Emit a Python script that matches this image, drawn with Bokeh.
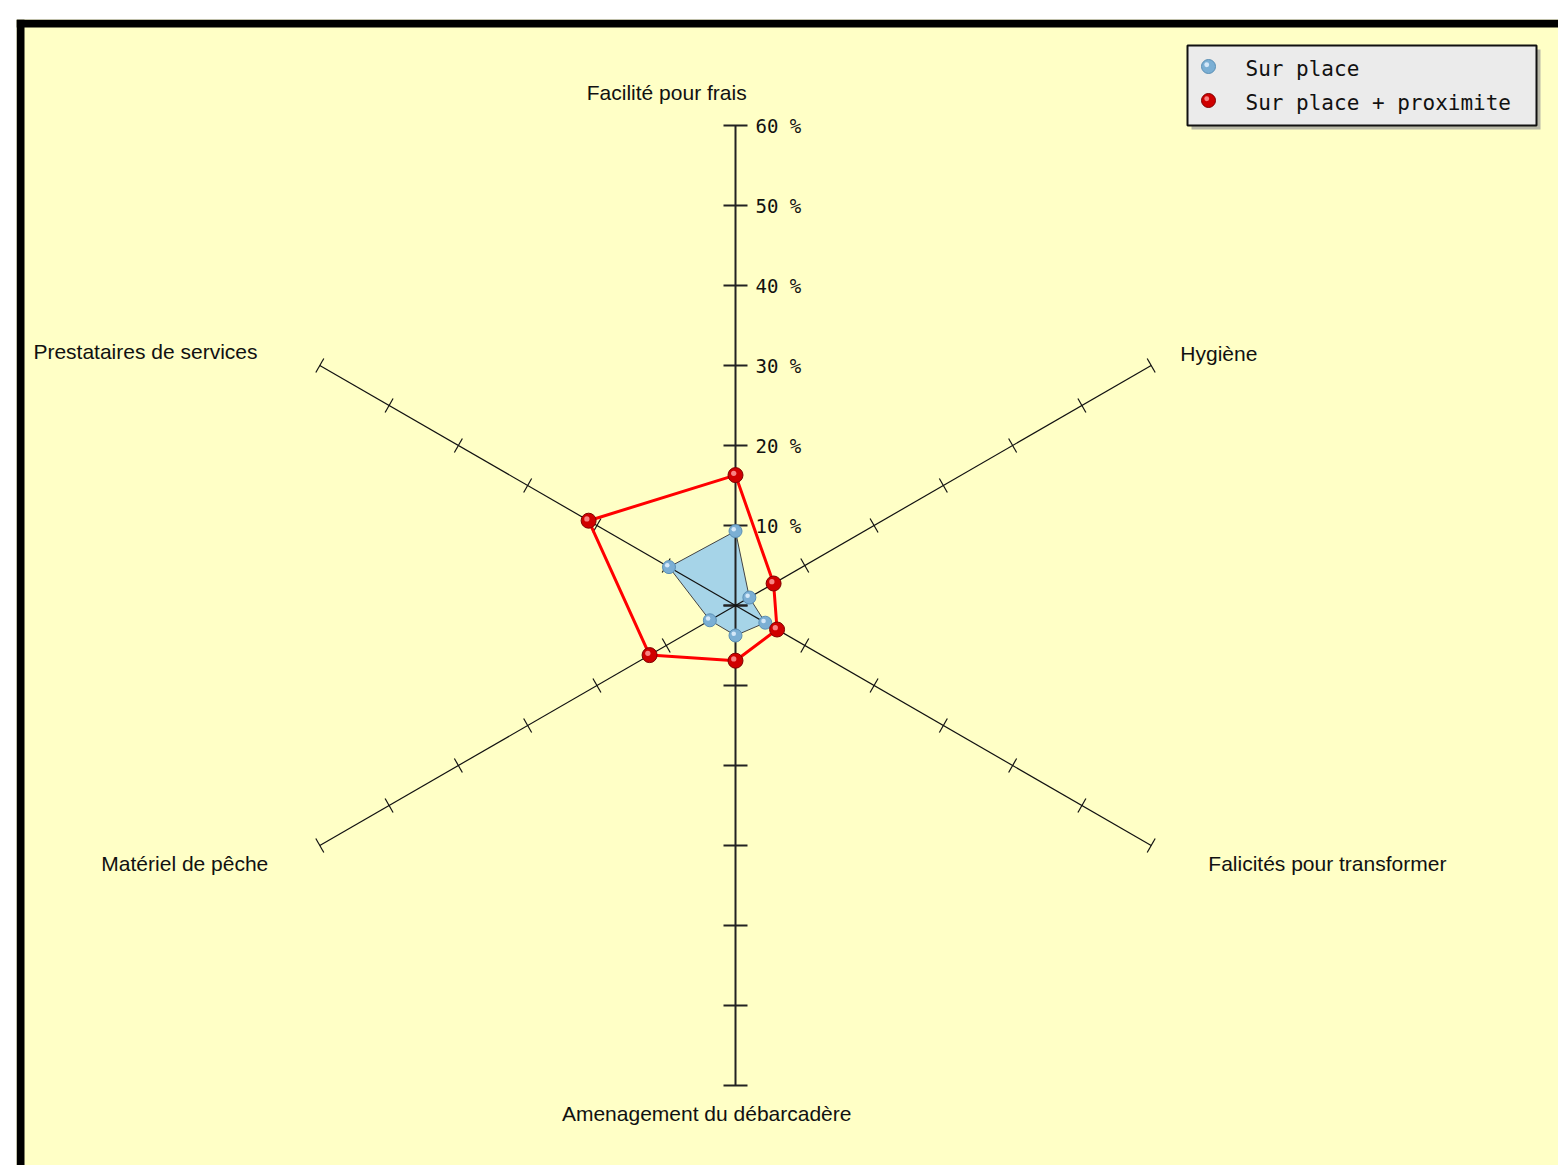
import math
from bokeh.plotting import figure
from bokeh.models import Range1d
from bokeh.core.properties import value
from bokeh.embed import file_html
from bokeh.resources import INLINE

# ---------------- data ----------------
categories = ["Facilité pour frais", "Hygiène", "Falicités pour transformer",
              "Amenagement du débarcadère", "Matériel de pêche", "Prestataires de services"]
angles_deg = [90, 30, -30, -90, -150, 150]
sur_place = [9.3, 2.0, 4.3, 3.75, 3.7, 9.6]
sur_place_prox = [16.3, 5.5, 6.0, 6.9, 12.4, 21.2]
tick_values = [10, 20, 30, 40, 50, 60]
tick_labels = ["10 %", "20 %", "30 %", "40 %", "50 %", "60 %"]
series_names = ["Sur place", "Sur place + proximite"]

# ---------------- layout ----------------
W, H = 1558, 1165
PX = 8.0  # pixels per percent unit
ML, MT = 16, 19
frame_w, frame_h = W - ML, H - MT
cx_px, cy_px = 735 - 16, 605 - 19  # centre inside frame
x0 = -cx_px / PX
y1 = cy_px / PX
p = figure(width=W, height=H, output_backend="svg", toolbar_location=None,
           x_axis_location=None, y_axis_location=None,
           x_range=Range1d(x0, x0 + frame_w / PX),
           y_range=Range1d(y1 - frame_h / PX, y1),
           min_border_left=ML, min_border_top=MT, min_border_right=0, min_border_bottom=0)
p.grid.visible = False
p.outline_line_color = None
p.background_fill_color = "#FFFFC6"
p.border_fill_color = "white"

def polar(r, a):
    t = math.radians(a)
    return r * math.cos(t), r * math.sin(t)

# black frame (left and top)
p.quad(left=[x0, x0], right=[x0 + 1, x0 + frame_w / PX],
       top=[y1, y1], bottom=[y1 - frame_h / PX, y1 - 1],
       fill_color="black", line_color=None)

# blue polygon fill
bx, by = zip(*[polar(v, a) for v, a in zip(sur_place, angles_deg)])
p.patch(list(bx), list(by), fill_color="#A6D4E8", line_color=None)

# axes
rmax = tick_values[-1]
p.line([0, 0], [-rmax, rmax], line_color="#222222", line_width=2)
vt_x, vt_y = [], []
for t in [0] + tick_values:
    for s in (1, -1):
        vt_x.append([-1.5, 1.5])
        vt_y.append([s * t, s * t])
p.multi_line(vt_x, vt_y, line_color="#222222", line_width=2)

dx_l, dy_l, tx, ty = [], [], [], []
for a in angles_deg:
    if a in (90, -90):
        continue
    ex, ey = polar(rmax, a)
    dx_l.append([0, ex]); dy_l.append([0, ey])
    pxv, pyv = polar(1.0, a + 90)
    for t in tick_values:
        mx, my = polar(t, a)
        tx.append([mx - pxv, mx + pxv]); ty.append([my - pyv, my + pyv])
p.multi_line(dx_l, dy_l, line_color="#111111", line_width=1.2)
p.multi_line(tx, ty, line_color="#111111", line_width=1.2)

# blue outline
p.patch(list(bx), list(by), fill_color=None, line_color="#444444", line_width=1)

# red polygon
rx, ry = zip(*[polar(v, a) for v, a in zip(sur_place_prox, angles_deg)])
p.patch(list(rx), list(ry), fill_color=None, line_color="#FF0000", line_width=3)

def spheres(xs, ys, fill, line, hi, size):
    p.scatter(list(xs), list(ys), size=size, fill_color=fill, line_color=line, line_width=1)
    p.scatter([x - 0.22 for x in xs], [y + 0.22 for y in ys], size=size * 0.35,
              fill_color=hi, line_color=None, fill_alpha=0.85)

spheres(bx, by, "#7BAFD4", "#5A8FB5", "#E4F2FF", 13)
spheres(rx, ry, "#D00000", "#800000", "#FF9A9A", 15)

# tick labels
p.text(x=[2.5] * len(tick_values), y=tick_values, text=tick_labels,
       text_font=value("DejaVu Sans Mono"), text_font_size="19px",
       text_baseline="middle", text_align="left", text_color="#111111")

# category labels
lab_x = [-8.6, 55.6, 59.1, -3.6, -58.4, -59.75]
lab_y = [64.1, 31.5, -32.25, -63.5, -32.25, 31.75]
lab_align = ["center", "left", "left", "center", "right", "right"]
for t, x, y, al in zip(categories, lab_x, lab_y, lab_align):
    p.text(x=[x], y=[y], text=[t], text_font=value("Liberation Sans"),
           text_font_size="21px", text_baseline="middle", text_align=al,
           text_color="#111111")

# legend
lx0, lx1, ly0, ly1 = 56.5, 100.125, 60.0, 70.0
p.quad(left=[lx0 + 0.5], right=[lx1 + 0.5], top=[ly1 - 0.5], bottom=[ly0 - 0.5],
       fill_color="#9A9A9A", fill_alpha=0.7, line_color=None)
p.quad(left=[lx0], right=[lx1], top=[ly1], bottom=[ly0],
       fill_color="#EBEBEB", line_color="#111111", line_width=2)
spheres([59.125], [67.375], "#7BAFD4", "#5A8FB5", "#E4F2FF", 14)
spheres([59.125], [63.125], "#D00000", "#800000", "#FF9A9A", 14)
p.text(x=[63.75, 63.75], y=[67.1, 62.85], text=series_names,
       text_font=value("DejaVu Sans Mono"), text_font_size="21px",
       text_baseline="middle", text_align="left", text_color="#111111")

open("out.html", "w").write(file_html(p, INLINE))
